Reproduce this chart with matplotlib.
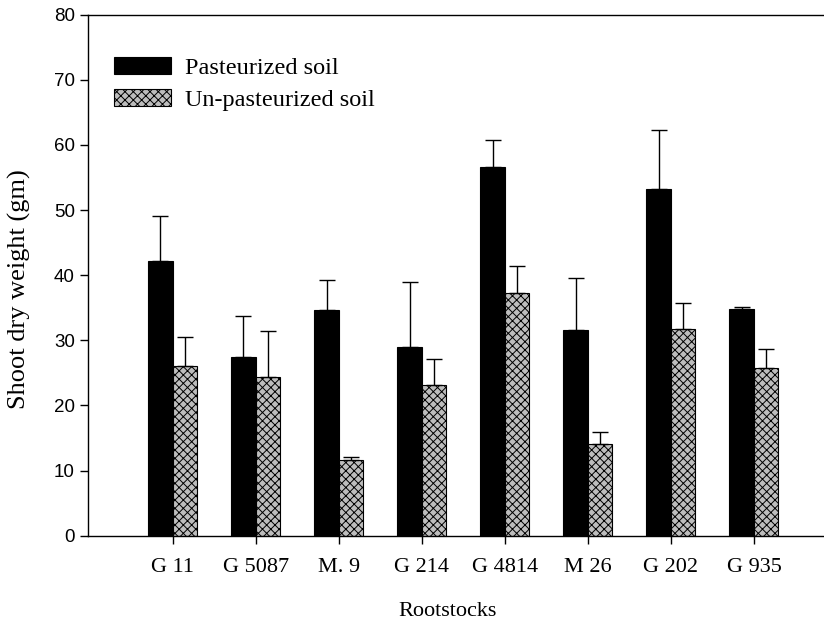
import numpy as np
import matplotlib.pyplot as plt

rootstocks = ["G 11", "G 5087", "M. 9", "G 214", "G 4814", "M 26", "G 202", "G 935"]
pasteurized = [42.2, 27.4, 34.6, 29.0, 56.6, 31.6, 53.2, 34.8]
pasteurized_se = [6.9, 6.3, 4.7, 10.0, 4.2, 8.0, 9.1, 0.3]
unpasteurized = [26.0, 24.4, 11.6, 23.1, 37.3, 14.1, 31.8, 25.8]
unpasteurized_se = [4.5, 7.1, 0.5, 4.0, 4.1, 1.9, 4.0, 2.8]

serif = ["Times New Roman", "Liberation Serif", "DejaVu Serif"]
sans = ["Arial", "Liberation Sans", "DejaVu Sans"]
plt.rcParams["hatch.linewidth"] = 0.7

fig = plt.figure(figsize=(8.24, 6.27), dpi=100)
ax = fig.add_axes([0.1068, 0.1456, 0.909, 0.831])

x = np.arange(len(rootstocks))
w = 0.295

ax.bar(x - w / 2, pasteurized, w, color="black", edgecolor="black", linewidth=0.8,
       label="Pasteurized soil")
ax.bar(x + w / 2, unpasteurized, w, color="#bdbdbd", edgecolor="black", linewidth=0.8,
       hatch="xxxx", label="Un-pasteurized soil")

zeros = np.zeros(len(x))
ax.errorbar(x - w / 2, pasteurized, yerr=[zeros, pasteurized_se], fmt="none",
            ecolor="black", elinewidth=1, capsize=6, capthick=1)
ax.errorbar(x + w / 2, unpasteurized, yerr=[zeros, unpasteurized_se], fmt="none",
            ecolor="black", elinewidth=1, capsize=6, capthick=1)

ax.set_xlim(-1.02, 8.0)
ax.set_ylim(0, 80)
ax.set_yticks(range(0, 81, 10))
ax.set_xticks(x)
ax.set_xticklabels(rootstocks, fontfamily=serif, fontsize=16)
for lab in ax.get_yticklabels():
    lab.set_fontfamily(sans)
    lab.set_fontsize(13.5)
ax.tick_params(direction="out", length=6, width=1, color="black")
ax.tick_params(axis="x", pad=10)
ax.spines["right"].set_visible(False)
for s in ["left", "bottom", "top"]:
    ax.spines[s].set_linewidth(1)

ax.set_xlabel("Rootstocks", fontfamily=serif, fontsize=16)
ax.set_ylabel("Shoot dry weight (gm)", fontfamily=serif, fontsize=19)
ax.xaxis.set_label_coords(0.48, -0.128)
ax.yaxis.set_label_coords(-0.076, 0.4725)

ax.legend(loc="upper left", bbox_to_anchor=(0.035, 0.918), bbox_transform=ax.transAxes,
          frameon=False, prop={"family": serif, "size": 17.5},
          handlelength=2.35, handleheight=0.66, handletextpad=0.55,
          labelspacing=0.42, borderaxespad=0.0, borderpad=0.0)

fig.savefig("out.png", dpi=100)
